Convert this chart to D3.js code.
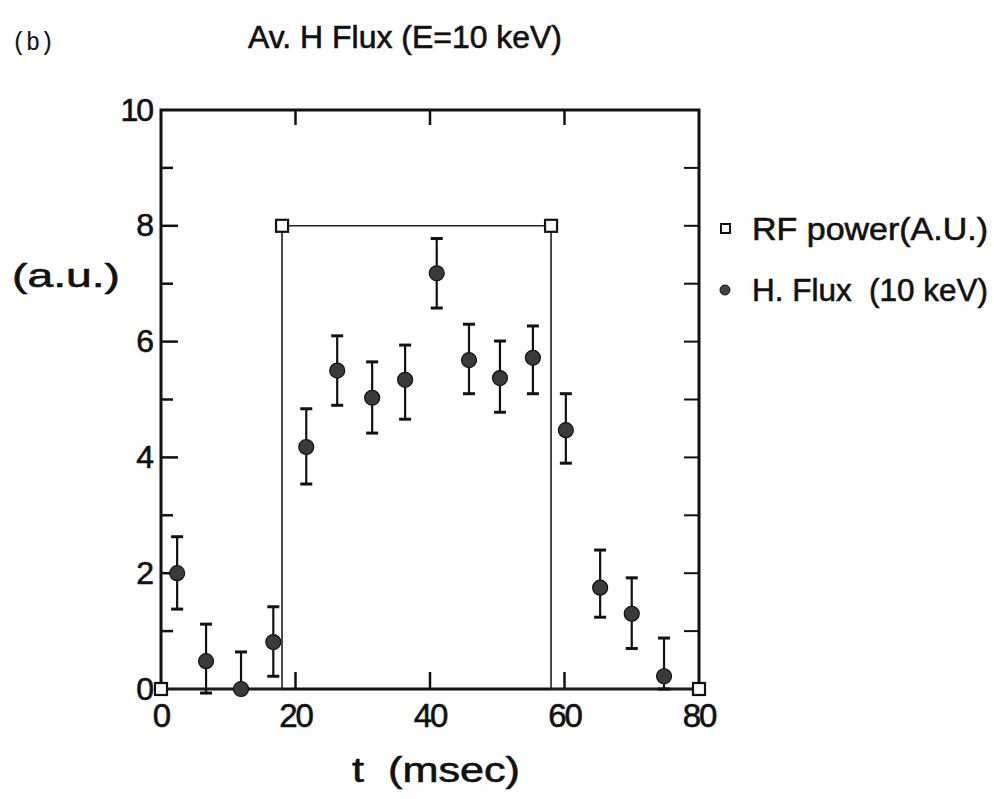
<!DOCTYPE html>
<html>
<head>
<meta charset="utf-8">
<script src="https://cdn.jsdelivr.net/npm/d3@7"></script>
<style>
  body { margin: 0; background: #fff; }
  text { font-family: "Liberation Sans", Arial, sans-serif; fill: #111; stroke: #111; stroke-width: 0.6px; }
</style>
</head>
<body>
<div id="chart"></div>
<script>
// H flux points (t in msec, value in a.u.)
const fluxTimes = [2.4, 6.7, 11.9, 16.7, 21.6, 26.2, 31.4, 36.3, 41.0, 45.8, 50.4, 55.3, 60.2, 65.3, 70.0, 74.8];
const fluxValues = [2.0, 0.48, 0.0, 0.81, 4.18, 5.5, 5.03, 5.34, 7.18, 5.68, 5.37, 5.72, 4.47, 1.75, 1.3, 0.22];
const fluxErrHigh = [0.63, 0.64, 0.64, 0.61, 0.66, 0.6, 0.62, 0.6, 0.6, 0.62, 0.64, 0.55, 0.63, 0.65, 0.62, 0.66];
const fluxErrLow = [0.62, 0.55, 0.0, 0.59, 0.64, 0.6, 0.61, 0.68, 0.6, 0.58, 0.59, 0.62, 0.57, 0.51, 0.6, 0.22];

// RF power trace and its square markers
const rfTimes = [0, 18, 18, 58, 58, 80];
const rfPower = [0, 0, 8, 8, 0, 0];
const rfMarkerTimes = [0, 18, 58, 80];
const rfMarkerPower = [0, 8, 8, 0];

// Axis ticks
const xTickLabels = [0, 20, 40, 60, 80];
const xInnerTicks = [20, 40, 60];
const yTickLabels = [0, 2, 4, 6, 8, 10];
const yMinorTicks = [1, 3, 5, 7, 9];

const legendLabels = ['RF power(A.U.)', 'H. Flux  (10 keV)'];

const W = 994, H = 799;
const margin = { top: 110, left: 161 };
const width = 538, height = 579;

const svg = d3.select('#chart').append('svg')
  .attr('width', W).attr('height', H);

const g = svg.append('g')
  .attr('transform', `translate(${margin.left},${margin.top})`);

const x = d3.scaleLinear().domain([0, 80]).range([0, width]);
const y = d3.scaleLinear().domain([0, 10]).range([height, 0]);

// Frame
g.append('rect')
  .attr('width', width).attr('height', height)
  .attr('fill', 'none').attr('stroke', '#111').attr('stroke-width', 3);

// Y ticks, inward on both sides
const yMajor = yTickLabels.filter(d => d > 0 && d < 10);
g.selectAll('.ytick-l').data(yMajor).enter().append('line')
  .attr('x1', 0).attr('x2', 17).attr('y1', d => y(d)).attr('y2', d => y(d))
  .attr('stroke', '#111').attr('stroke-width', 2.5);
g.selectAll('.ytick-lm').data(yMinorTicks).enter().append('line')
  .attr('x1', 0).attr('x2', 12).attr('y1', d => y(d)).attr('y2', d => y(d))
  .attr('stroke', '#111').attr('stroke-width', 2.5);
g.selectAll('.ytick-r').data(yMajor.concat(yMinorTicks)).enter().append('line')
  .attr('x1', width).attr('x2', width - 15).attr('y1', d => y(d)).attr('y2', d => y(d))
  .attr('stroke', '#111').attr('stroke-width', 2);

// X ticks, inward top and bottom
g.selectAll('.xtick-b').data(xInnerTicks).enter().append('line')
  .attr('x1', d => x(d)).attr('x2', d => x(d)).attr('y1', height).attr('y2', height - 17)
  .attr('stroke', '#111').attr('stroke-width', 2.5);
g.selectAll('.xtick-t').data(xInnerTicks).enter().append('line')
  .attr('x1', d => x(d)).attr('x2', d => x(d)).attr('y1', 0).attr('y2', 15)
  .attr('stroke', '#111').attr('stroke-width', 2.5);

// Tick labels
g.selectAll('.ylab').data(yTickLabels).enter().append('text')
  .attr('x', -9).attr('y', d => y(d)).attr('dy', '0.33em')
  .attr('text-anchor', 'end')
  .style('font-size', '32px').style('letter-spacing', '-2px')
  .text(d => d);

g.selectAll('.xlab').data(xTickLabels).enter().append('text')
  .attr('x', d => x(d)).attr('y', height + 38)
  .attr('text-anchor', 'middle')
  .style('font-size', '33px').style('letter-spacing', '-2px')
  .text(d => d);

// RF power trace
const rfLine = d3.line().x(d => x(d[0])).y(d => y(d[1]));
g.append('path')
  .datum(rfTimes.map((t, i) => [t, rfPower[i]]))
  .attr('d', rfLine)
  .attr('fill', 'none').attr('stroke', '#222').attr('stroke-width', 1.6);

g.selectAll('.rfmark').data(rfMarkerTimes.map((t, i) => [t, rfMarkerPower[i]]))
  .enter().append('rect')
  .attr('x', d => x(d[0]) - 6).attr('y', d => y(d[1]) - 6)
  .attr('width', 12).attr('height', 12)
  .attr('fill', '#fff').attr('stroke', '#111').attr('stroke-width', 2.2);

// Error bars
const flux = fluxTimes.map((t, i) => ({
  t, v: fluxValues[i], hi: fluxValues[i] + fluxErrHigh[i], lo: fluxValues[i] - fluxErrLow[i]
}));

const eb = g.selectAll('.eb').data(flux).enter().append('g')
  .attr('stroke', '#111').attr('stroke-width', 2.2);
eb.append('line')
  .attr('x1', d => x(d.t)).attr('x2', d => x(d.t))
  .attr('y1', d => y(d.hi)).attr('y2', d => y(d.lo));
eb.append('line')
  .attr('x1', d => x(d.t) - 6).attr('x2', d => x(d.t) + 6)
  .attr('y1', d => y(d.hi)).attr('y2', d => y(d.hi))
  .attr('stroke-width', 3);
eb.filter(d => d.lo < d.v).append('line')
  .attr('x1', d => x(d.t) - 6).attr('x2', d => x(d.t) + 6)
  .attr('y1', d => y(d.lo)).attr('y2', d => y(d.lo))
  .attr('stroke-width', 3);

// Flux points
g.selectAll('.pt').data(flux).enter().append('circle')
  .attr('cx', d => x(d.t)).attr('cy', d => y(d.v)).attr('r', 7.5)
  .attr('fill', '#3a3a3a').attr('stroke', '#111').attr('stroke-width', 1.2);

// Legend
svg.append('rect')
  .attr('x', 721).attr('y', 224).attr('width', 9).attr('height', 9)
  .attr('fill', '#fff').attr('stroke', '#111').attr('stroke-width', 2);
svg.append('circle')
  .attr('cx', 725).attr('cy', 290).attr('r', 5)
  .attr('fill', '#444').attr('stroke', '#111').attr('stroke-width', 1);
svg.append('text')
  .attr('x', 752).attr('y', 240)
  .attr('textLength', 236).attr('lengthAdjust', 'spacingAndGlyphs')
  .style('font-size', '32px').text(legendLabels[0]);
svg.append('text')
  .attr('x', 752).attr('y', 301)
  .attr('textLength', 236).attr('lengthAdjust', 'spacingAndGlyphs')
  .style('font-size', '32px').style('white-space', 'pre').text(legendLabels[1]);

// Titles and axis labels
svg.append('text')
  .attr('x', 12).attr('y', 50)
  .attr('textLength', 42).attr('lengthAdjust', 'spacingAndGlyphs')
  .style('font-family', '"Liberation Mono", "DejaVu Sans Mono", monospace')
  .style('font-size', '26px').style('stroke-width', '0.2px').text('(b)');

svg.append('text')
  .attr('x', 248).attr('y', 48)
  .attr('textLength', 314).attr('lengthAdjust', 'spacingAndGlyphs')
  .style('font-size', '31px').text('Av. H Flux (E=10 keV)');

svg.append('text')
  .attr('x', 12).attr('y', 287)
  .attr('textLength', 108).attr('lengthAdjust', 'spacingAndGlyphs')
  .style('font-size', '33px').text('(a.u.)');

svg.append('text')
  .attr('x', 352).attr('y', 782)
  .attr('textLength', 168).attr('lengthAdjust', 'spacingAndGlyphs')
  .style('font-size', '35px').style('white-space', 'pre').text('t  (msec)');
</script>
</body>
</html>
